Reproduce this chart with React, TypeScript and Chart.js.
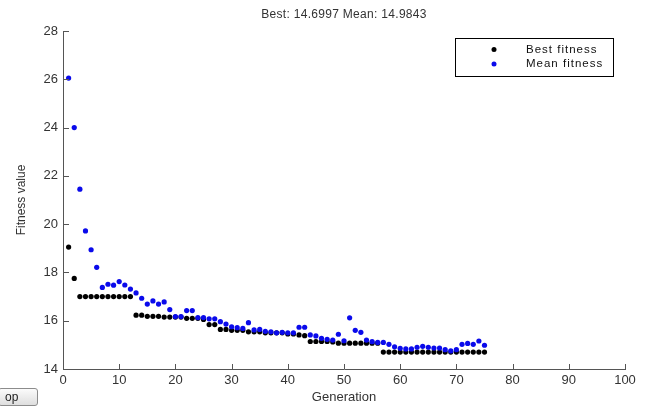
import { useEffect, useRef } from 'react';
import { Chart, registerables } from 'chart.js';

Chart.register(...registerables);

const generations = [
  1, 2, 3, 4, 5, 6, 7, 8, 9, 10, 11, 12, 13, 14, 15, 16, 17, 18, 19, 20,
  21, 22, 23, 24, 25, 26, 27, 28, 29, 30, 31, 32, 33, 34, 35, 36, 37, 38, 39, 40,
  41, 42, 43, 44, 45, 46, 47, 48, 49, 50, 51, 52, 53, 54, 55, 56, 57, 58, 59, 60,
  61, 62, 63, 64, 65, 66, 67, 68, 69, 70, 71, 72, 73, 74, 75,
];

const bestFitness = [
  19.05, 17.75, 17.0, 17.0, 17.0, 17.0, 17.0, 17.0, 17.0, 17.0,
  17.0, 17.0, 16.23, 16.23, 16.18, 16.18, 16.18, 16.15, 16.15, 16.15,
  16.15, 16.1, 16.1, 16.1, 16.05, 15.84, 15.84, 15.64, 15.64, 15.6,
  15.6, 15.6, 15.54, 15.54, 15.54, 15.5, 15.5, 15.5, 15.5, 15.45,
  15.45, 15.41, 15.38, 15.14, 15.14, 15.14, 15.14, 15.12, 15.07, 15.07,
  15.07, 15.07, 15.07, 15.07, 15.07, 15.07, 14.6997, 14.6997, 14.6997, 14.6997,
  14.6997, 14.6997, 14.6997, 14.6997, 14.6997, 14.6997, 14.6997, 14.6997, 14.6997, 14.6997,
  14.6997, 14.6997, 14.6997, 14.6997, 14.6997,
];

const meanFitness = [
  26.05, 24.0, 21.45, 19.72, 18.94, 18.21, 17.38, 17.51, 17.47, 17.62,
  17.48, 17.31, 17.15, 16.93, 16.69, 16.82, 16.69, 16.78, 16.46, 16.17,
  16.17, 16.42, 16.42, 16.13, 16.13, 16.08, 16.08, 15.96, 15.86, 15.75,
  15.71, 15.68, 15.92, 15.62, 15.64, 15.56, 15.54, 15.5, 15.52, 15.5,
  15.5, 15.73, 15.73, 15.41, 15.37, 15.27, 15.23, 15.2, 15.44, 15.17,
  16.12, 15.6, 15.52, 15.2, 15.13, 15.1, 15.1, 15.02, 14.92, 14.86,
  14.83, 14.83, 14.9, 14.94, 14.9, 14.87, 14.87, 14.8, 14.75, 14.8,
  15.02, 15.06, 15.02, 15.16, 14.9843,
];

const xTicks = [0, 10, 20, 30, 40, 50, 60, 70, 80, 90, 100];
const yTicks = [14, 16, 18, 20, 22, 24, 26, 28];

const titleText = 'Best: 14.6997 Mean: 14.9843';
const xTitle = 'Generation';
const yTitle = 'Fitness value';
const legendLabels = ['Best fitness', 'Mean fitness'];

const FONT = '"Liberation Sans", Arial, sans-serif';
const BLUE = 'rgb(10, 10, 235)';
const BLACK = '#000000';
const AXIS = '#555555';
const TEXT = '#333333';

const decorPlugin = {
  id: 'matlabDecor',
  afterDraw(chart: any) {
    const { ctx, chartArea } = chart;
    const xs = chart.scales.x;
    const ys = chart.scales.y;
    ctx.save();
    // inward ticks
    ctx.strokeStyle = AXIS;
    ctx.lineWidth = 1;
    ctx.beginPath();
    xTicks.forEach((v) => {
      const px = Math.round(xs.getPixelForValue(v)) + 0.5;
      ctx.moveTo(px, chartArea.bottom);
      ctx.lineTo(px, chartArea.bottom - 5);
    });
    yTicks.forEach((v) => {
      const py = Math.round(ys.getPixelForValue(v)) + 0.5;
      ctx.moveTo(chartArea.left, py);
      ctx.lineTo(chartArea.left + 6, py);
    });
    ctx.stroke();

    // title
    ctx.fillStyle = TEXT;
    ctx.font = `12px ${FONT}`;
    (ctx as any).letterSpacing = '0.3px';
    ctx.textAlign = 'center';
    ctx.textBaseline = 'middle';
    ctx.fillText(titleText, (chartArea.left + chartArea.right) / 2, 15);

    // legend
    const bw = 158;
    const bh = 38;
    const bx = chartArea.right - 12 - bw;
    const by = chartArea.top + 7;
    ctx.fillStyle = '#ffffff';
    ctx.fillRect(bx, by, bw, bh);
    ctx.strokeStyle = '#000000';
    ctx.strokeRect(Math.round(bx) + 0.5, Math.round(by) + 0.5, bw, bh);
    const colors = [BLACK, BLUE];
    legendLabels.forEach((label, i) => {
      const cy = by + 11.5 + i * 14.5;
      ctx.fillStyle = colors[i];
      ctx.beginPath();
      ctx.arc(bx + 39, cy, 2.5, 0, Math.PI * 2);
      ctx.fill();
      ctx.fillStyle = '#111111';
      ctx.font = `11.5px ${FONT}`;
      (ctx as any).letterSpacing = '1px';
      ctx.textAlign = 'left';
      ctx.textBaseline = 'middle';
      ctx.fillText(label, bx + 71, cy);
    });
    (ctx as any).letterSpacing = '0px';
    ctx.restore();
  },
};

export default function App() {
  const canvasRef = useRef<HTMLCanvasElement | null>(null);

  useEffect(() => {
    document.body.style.margin = '0';
    const canvas = canvasRef.current;
    if (!canvas) return;
    const chart = new Chart(canvas, {
      type: 'scatter',
      data: {
        datasets: [
          {
            label: legendLabels[0],
            data: generations.map((g, i) => ({ x: g, y: bestFitness[i] })),
            backgroundColor: BLACK,
            borderWidth: 0,
            pointRadius: 2.6,
            order: 2,
          },
          {
            label: legendLabels[1],
            data: generations.map((g, i) => ({ x: g, y: meanFitness[i] })),
            backgroundColor: BLUE,
            borderWidth: 0,
            pointRadius: 2.6,
            order: 1,
          },
        ],
      },
      plugins: [decorPlugin],
      options: {
        responsive: false,
        animation: false,
        devicePixelRatio: 1,
        layout: { padding: { top: 31, right: 22, left: 0, bottom: 0 } },
        plugins: {
          legend: { display: false },
          tooltip: { enabled: false },
          title: { display: false },
        },
        scales: {
          x: {
            type: 'linear',
            min: 0,
            max: 100,
            afterBuildTicks: (scale: any) => {
              scale.ticks = xTicks.map((v) => ({ value: v }));
            },
            afterFit: (scale: any) => {
              scale.height = 37;
            },
            ticks: {
              color: TEXT,
              font: { family: FONT, size: 13 },
              padding: 4,
              maxRotation: 0,
              autoSkip: false,
            },
            grid: { display: true, drawOnChartArea: false, drawTicks: false },
            border: { display: true, color: AXIS, width: 1 },
            title: {
              display: true,
              text: xTitle,
              color: TEXT,
              font: { family: FONT, size: 13 },
              padding: { top: 0, bottom: 1 },
            },
          },
          y: {
            type: 'linear',
            min: 14,
            max: 28,
            afterBuildTicks: (scale: any) => {
              scale.ticks = yTicks.map((v) => ({ value: v }));
            },
            afterFit: (scale: any) => {
              scale.width = 63;
            },
            ticks: {
              color: TEXT,
              font: { family: FONT, size: 13 },
              padding: 5,
              autoSkip: false,
            },
            grid: { display: true, drawOnChartArea: false, drawTicks: false },
            border: { display: true, color: AXIS, width: 1 },
            title: {
              display: true,
              text: yTitle,
              color: TEXT,
              font: { family: FONT, size: 12 },
              padding: { top: 14, bottom: 0 },
            },
          },
        },
      },
    } as any);
    return () => {
      chart.destroy();
    };
  }, []);

  return (
    <div style={{ position: 'absolute', left: 0, top: 0, width: 647, height: 406, background: '#ffffff' }}>
      <canvas ref={canvasRef} width={647} height={406} style={{ display: 'block', width: 647, height: 406 }} />
      <div
        style={{
          position: 'absolute',
          left: -2,
          top: 388,
          width: 40,
          height: 18,
          boxSizing: 'border-box',
          border: '1px solid #8c8c8c',
          borderRadius: 3,
          background: 'linear-gradient(#fbfbfb, #dedede)',
          font: `12px ${FONT}`,
          color: '#222',
          lineHeight: '16px',
          paddingLeft: 6,
        }}
      >
        op
      </div>
    </div>
  );
}
